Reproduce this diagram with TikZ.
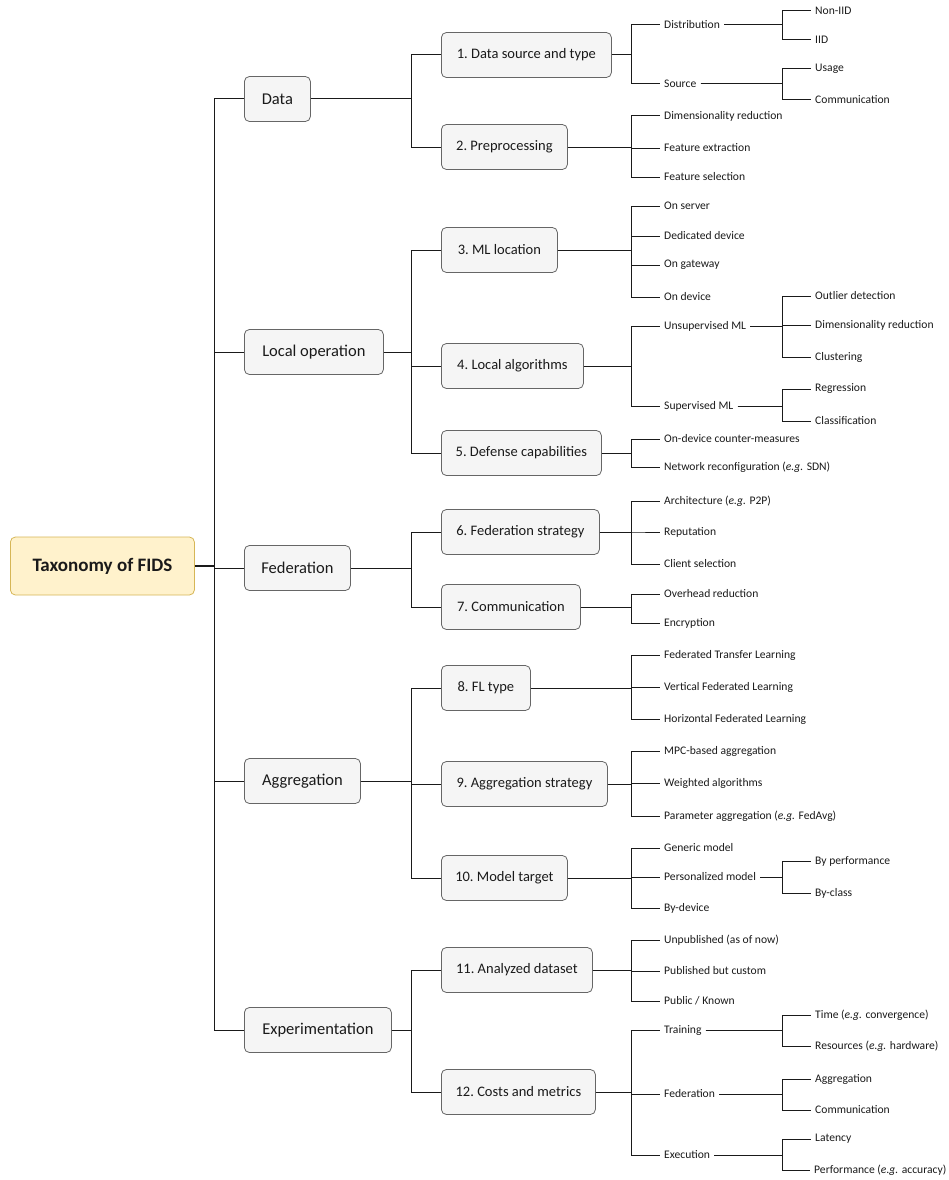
\documentclass[tikz,border=0pt]{standalone}
\usepackage{fontspec}
\setmainfont{Carlito}
\definecolor{boxfill}{HTML}{F5F5F5}
\definecolor{boxstroke}{HTML}{666666}
\definecolor{rootfill}{HTML}{FFF2CC}
\definecolor{rootstroke}{HTML}{D6B656}
\definecolor{linecol}{HTML}{1A1A1A}
\definecolor{txt}{HTML}{1A1A1A}
\tikzset{
  rootbox/.style={draw=rootstroke, fill=rootfill, rounded corners=5pt, line width=0.8pt,
    minimum height=58pt, minimum width=184pt, anchor=west, inner xsep=0pt,
    font=\fontsize{19}{21}\selectfont\bfseries, text=txt},
  boxone/.style={draw=boxstroke, fill=boxfill, rounded corners=5pt, line width=0.8pt,
    minimum height=45pt, anchor=west, inner xsep=0pt,
    font=\fontsize{16.5}{18}\selectfont, text=txt},
  boxtwo/.style={draw=boxstroke, fill=boxfill, rounded corners=5pt, line width=0.8pt,
    minimum height=45pt, anchor=west, inner xsep=0pt,
    font=\fontsize{14.5}{16}\selectfont, text=txt},
  leaf/.style={anchor=west, inner xsep=4pt, inner ysep=1pt,
    font=\fontsize{11.6}{14}\selectfont, text=txt},
  conn/.style={draw=linecol, line width=1pt},
}
\begin{document}
\begin{tikzpicture}[x=1pt, y=-1pt]
\useasboundingbox (0,0) rectangle (949,1180);
\coordinate (J1) at (214,0);
\coordinate (J2) at (411,0);
\coordinate (J3) at (631,0);
\coordinate (J4) at (782,0);

% root
\node[rootbox] (root) at (10,566) {Taxonomy of FIDS};

% level 1
\node[boxone, minimum width=66pt] (data) at (244,99) {Data};
\node[boxone, minimum width=139pt] (local) at (244,352) {Local operation};
\node[boxone, minimum width=106pt] (fed) at (244,568) {Federation};
\node[boxone, minimum width=116pt] (agg) at (244,781) {Aggregation};
\node[boxone, minimum width=147pt] (exp) at (244,1030) {Experimentation};

% level 2
\node[boxtwo, minimum width=170pt] (c1) at (441,55) {1.\ Data source and type};
\node[boxtwo, minimum width=126pt] (c2) at (441,147) {2.\ Preprocessing};
\node[boxtwo, minimum width=116pt] (c3) at (441,250) {3.\ ML location};
\node[boxtwo, minimum width=142pt] (c4) at (441,366) {4.\ Local algorithms};
\node[boxtwo, minimum width=160pt] (c5) at (441,453) {5.\ Defense capabilities};
\node[boxtwo, minimum width=158pt] (c6) at (441,532) {6.\ Federation strategy};
\node[boxtwo, minimum width=139pt] (c7) at (441,607) {7.\ Communication};
\node[boxtwo, minimum width=89pt] (c8) at (441,688) {8.\ FL type};
\node[boxtwo, minimum width=166pt] (c9) at (441,784) {9.\ Aggregation strategy};
\node[boxtwo, minimum width=126pt] (c10) at (441,878) {10.\ Model target};
\node[boxtwo, minimum width=151pt] (c11) at (441,970) {11.\ Analyzed dataset};
\node[boxtwo, minimum width=154pt] (c12) at (441,1092) {12.\ Costs and metrics};

% level 3
\node[leaf] (dist) at (660,25) {Distribution};
\node[leaf] (src) at (660,84) {Source};
\node[leaf] (p1) at (660,116) {Dimensionality reduction};
\node[leaf] (p2) at (660,148) {Feature extraction};
\node[leaf] (p3) at (660,177) {Feature selection};
\node[leaf] (m1) at (660,206) {On server};
\node[leaf] (m2) at (660,236) {Dedicated device};
\node[leaf] (m3) at (660,265) {On gateway};
\node[leaf] (m4) at (660,297) {On device};
\node[leaf] (uns) at (660,326) {Unsupervised ML};
\node[leaf] (sup) at (660,406) {Supervised ML};
\node[leaf] (d1) at (660,439) {On-device counter-measures};
\node[leaf] (d2) at (660,467) {Network reconfiguration (\textit{e.g.} SDN)};
\node[leaf] (f1) at (660,501) {Architecture (\textit{e.g.} P2P)};
\node[leaf] (f2) at (660,532) {Reputation};
\node[leaf] (f3) at (660,564) {Client selection};
\node[leaf] (o1) at (660,594) {Overhead reduction};
\node[leaf] (o2) at (660,623) {Encryption};
\node[leaf] (t1) at (660,655) {Federated Transfer Learning};
\node[leaf] (t2) at (660,687) {Vertical Federated Learning};
\node[leaf] (t3) at (660,719) {Horizontal Federated Learning};
\node[leaf] (a1) at (660,751) {MPC-based aggregation};
\node[leaf] (a2) at (660,783) {Weighted algorithms};
\node[leaf] (a3) at (660,816) {Parameter aggregation (\textit{e.g.} FedAvg)};
\node[leaf] (g1) at (660,848) {Generic model};
\node[leaf] (g2) at (660,877) {Personalized model};
\node[leaf] (g3) at (660,908) {By-device};
\node[leaf] (s1) at (660,940) {Unpublished (as of now)};
\node[leaf] (s2) at (660,971) {Published but custom};
\node[leaf] (s3) at (660,1001) {Public / Known};
\node[leaf] (tr) at (660,1030) {Training};
\node[leaf] (fe) at (660,1094) {Federation};
\node[leaf] (ex) at (660,1155) {Execution};

% level 4
\node[leaf] (nid) at (811,11) {Non-IID};
\node[leaf] (iid) at (811,40) {IID};
\node[leaf] (usg) at (811,69) {Usage};
\node[leaf] (com) at (811,100) {Communication};
\node[leaf] (u1) at (811,296) {Outlier detection};
\node[leaf] (u2) at (811,325) {Dimensionality reduction};
\node[leaf] (u3) at (811,357) {Clustering};
\node[leaf] (r1) at (811,389) {Regression};
\node[leaf] (r2) at (811,421) {Classification};
\node[leaf] (b1) at (811,861) {By performance};
\node[leaf] (b2) at (811,893) {By-class};
\node[leaf] (tm) at (811,1015) {Time (\textit{e.g.} convergence)};
\node[leaf] (rs) at (811,1046) {Resources (\textit{e.g.} hardware)};
\node[leaf] (ag) at (811,1079) {Aggregation};
\node[leaf] (cm) at (811,1110) {Communication};
\node[leaf] (lt) at (811,1139) {Latency};
\node[leaf] (pf) at (810,1170) {Performance (\textit{e.g.} accuracy)};

% connectors
\draw[conn, line width=2pt] (root.east) -- (root.east -| J1);
\foreach \c in {data,local,fed,agg,exp}
  \draw[conn] (root.east -| J1) |- (\c.west);
\foreach \p/\c in {data/c1,data/c2,local/c3,local/c4,local/c5,fed/c6,fed/c7,agg/c8,agg/c9,agg/c10,exp/c11,exp/c12}
  \draw[conn] (\p.east) -- (\p.east -| J2) |- (\c.west);
\foreach \p/\c in {c1/dist,c1/src,c2/p1,c2/p2,c2/p3,c3/m1,c3/m2,c3/m3,c3/m4,c4/uns,c4/sup,c5/d1,c5/d2,
  c6/f1,c6/f2,c6/f3,c7/o1,c7/o2,c8/t1,c8/t2,c8/t3,c9/a1,c9/a2,c9/a3,c10/g1,c10/g2,c10/g3,
  c11/s1,c11/s2,c11/s3,c12/tr,c12/fe,c12/ex}
  \draw[conn] (\p.east) -- (\p.east -| J3) |- (\c.west);
\foreach \p/\c in {dist/nid,dist/iid,src/usg,src/com,uns/u1,uns/u2,uns/u3,sup/r1,sup/r2,g2/b1,g2/b2,
  tr/tm,tr/rs,fe/ag,fe/cm,ex/lt,ex/pf}
  \draw[conn] (\p.east) -- (\p.east -| J4) |- (\c.west);
\end{tikzpicture}
\end{document}
